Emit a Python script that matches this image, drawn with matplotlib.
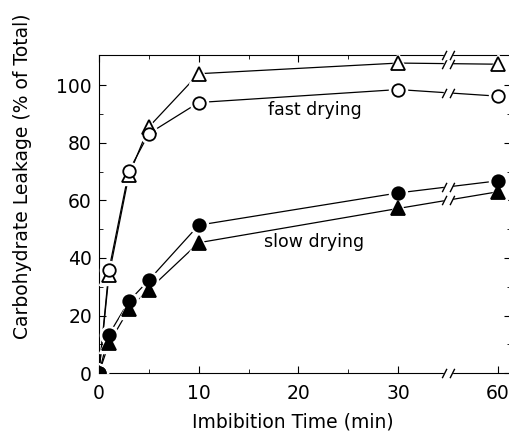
import numpy as np
import matplotlib
matplotlib.use("Agg")
import matplotlib.pyplot as plt
from matplotlib.path import Path
from matplotlib.ticker import FixedLocator

# === DATA ===
tiempos = np.array([0, 1, 3, 5, 10, 30, 60])
fast_tri = [0, 34, 68.7, 85.5, 104, 107.7, 107.3]
fast_circ = [0, 35.8, 70.2, 83.2, 94, 98.5, 96.2]
slow_circ = [0, 13.4, 25, 32.3, 51.4, 62.6, 66.8]
slow_tri = [0, 10.3, 22.2, 29, 45.3, 57.2, 63]

tick_vals = [0, 10, 20, 30, 60]
tick_labels = ["0", "10", "20", "30", "60"]
BREAK_T = 45  # time shown at the axis break (between 30 and 60)


def xpos(t):
    # axis is compressed after 30 min: 60 sits where 40 would be
    t = np.asarray(t, dtype=float)
    return np.where(t > 30, 30 + (t - 30) / 3, t)


fig = plt.figure(figsize=(5.1, 4.4), dpi=100)
ax = fig.add_axes([0.194, 0.152, 0.808, 0.723])

x = xpos(tiempos)
series = [
    (fast_tri, "^", "white"),
    (fast_circ, "o", "white"),
    (slow_circ, "o", "black"),
    (slow_tri, "^", "black"),
]

slash = Path([(-1.6, -1.2), (-0.4, 1.2), (0.4, -1.2), (1.6, 1.2)],
             [Path.MOVETO, Path.LINETO, Path.MOVETO, Path.LINETO])

xb = float(xpos(BREAK_T))
for vals, mk, fc in series:
    vals = np.asarray(vals)
    ms = 9 if mk == "o" else 10
    ax.plot(x, vals, color="black", lw=0.9, zorder=2)
    # white halo so lines stop short of the symbols
    ax.plot(x, vals, linestyle="none", marker=mk, ms=ms + 4, mfc="white",
            mec="white", zorder=3)
    ax.plot(x, vals, linestyle="none", marker=mk, ms=ms,
            mfc=fc, mec="black", mew=1.3, zorder=4)
    # break symbol on the 30 -> 60 segment
    yb = np.interp(xb, x, vals)
    ax.plot([xb], [yb], marker="s", ms=6, mfc="white", mec="white", ls="none", zorder=5)
    ax.plot([xb], [yb], marker=slash, ms=9, mfc="none", mec="black", mew=1.0,
            ls="none", zorder=6)

# break symbols on the horizontal spines
for yy in (0, 1):
    ax.plot([xb], [yy], transform=ax.get_xaxis_transform(), marker="s", ms=6,
            mfc="white", mec="white", ls="none", clip_on=False, zorder=6)
    ax.plot([xb], [yy], transform=ax.get_xaxis_transform(), marker=slash, ms=9,
            mfc="none", mec="black", mew=1.0, ls="none", clip_on=False, zorder=7)

ax.text(21.6, 91.3, "fast drying", ha="center", va="center", fontsize=12.5)
ax.text(21.6, 45.6, "slow drying", ha="center", va="center", fontsize=12.5)

ax.set_xlim(0, 41.3)
ax.set_ylim(0, 110.5)
ax.set_xticks(xpos(tick_vals))
ax.set_xticklabels(tick_labels)
ax.xaxis.set_minor_locator(FixedLocator([5, 15, 25]))
ax.set_yticks([0, 20, 40, 60, 80, 100])
ax.yaxis.set_minor_locator(FixedLocator([10, 30, 50, 70, 90]))
ax.tick_params(which="both", direction="in", top=True, right=True, labelsize=13.5)
ax.tick_params(axis="x", pad=8)
ax.tick_params(axis="y", pad=5)
ax.tick_params(which="major", length=5)
ax.tick_params(which="minor", length=3)
ax.spines["right"].set_visible(False)

ax.set_xlabel("Imbibition Time (min)", fontsize=13.5)
ax.set_ylabel("Carbohydrate Leakage (% of Total)", fontsize=13.5)
ax.xaxis.set_label_coords(0.47, -0.125)
ax.yaxis.set_label_coords(-0.162, 0.62)

fig.savefig("out.png", dpi=100)
